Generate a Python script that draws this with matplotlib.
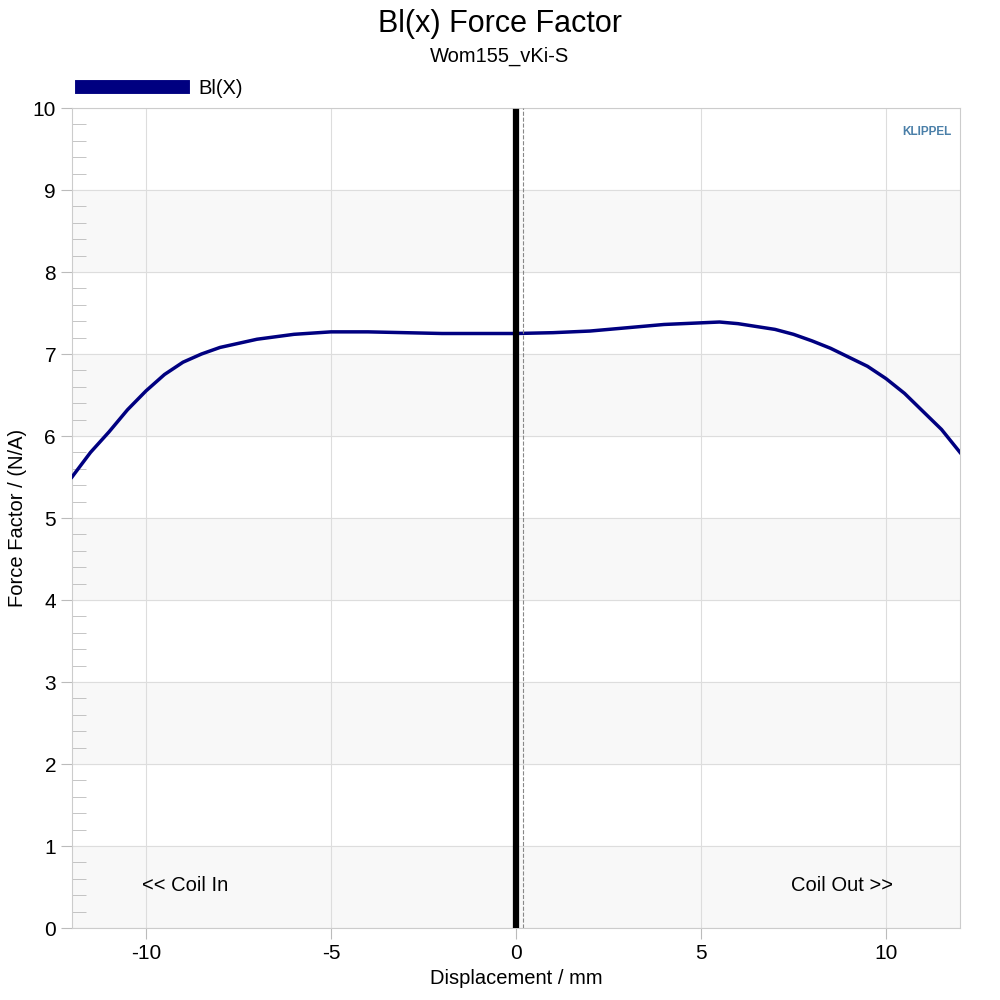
import numpy as np
import matplotlib
matplotlib.use("Agg")
import matplotlib.pyplot as plt
from matplotlib.ticker import MultipleLocator

plt.rcParams['font.family'] = ['Liberation Sans', 'DejaVu Sans']

x_mm = [-12, -11.5, -11, -10.5, -10, -9.5, -9, -8.5, -8, -7, -6, -5, -4, -3, -2, -1, 0, 1, 2, 3, 4, 5, 5.5, 6, 7, 7.5, 8, 8.5, 9, 9.5, 10, 10.5, 11, 11.5, 12]
bl = [5.5, 5.8, 6.05, 6.32, 6.55, 6.75, 6.9, 7.0, 7.08, 7.18, 7.24, 7.27, 7.27, 7.26, 7.25, 7.25, 7.25, 7.26, 7.28, 7.32, 7.36, 7.38, 7.39, 7.37, 7.3, 7.24, 7.16, 7.07, 6.96, 6.85, 6.7, 6.52, 6.3, 6.08, 5.8]

fig = plt.figure(figsize=(10, 10), dpi=100)
ax = fig.add_axes([0.072, 0.072, 0.888, 0.82])
ax.set_xlim(-12, 12)
ax.set_ylim(0, 10)
for k in range(0, 10, 2):
    ax.axhspan(k, k + 1, color="#f8f8f8", zorder=0)
ax.grid(True, color="#dddddd", lw=0.8)
ax.set_axisbelow(True)
ax.xaxis.set_major_locator(MultipleLocator(5))
ax.xaxis.set_minor_locator(MultipleLocator(1))
ax.yaxis.set_major_locator(MultipleLocator(1))
ax.yaxis.set_minor_locator(MultipleLocator(0.2))
ax.tick_params(which="major", length=8, color="#bbbbbb", labelsize=15)
ax.tick_params(axis="y", which="minor", direction="in", length=10, color="#bbbbbb")
ax.tick_params(axis="x", which="minor", length=0)
for s in ax.spines.values():
    s.set_color("#cccccc")
ax.set_xticks([-10, -5, 0, 5, 10])
ax.set_xticklabels(["-10", "-5", "0", "5", "10"])
ax.plot(x_mm, bl, color="#000080", lw=2.5, label="Bl(X)", zorder=3)
ax.axvline(0, color="black", lw=4.5, ymax=0.995, zorder=4)
ax.axvline(0.2, color="#888888", lw=0.8, ls="--", zorder=4)
ax.text(-10.1, 0.45, "<< Coil In", fontsize=14.5)
ax.text(10.2, 0.45, "Coil Out >>", fontsize=14.5, ha="right")
ax.text(0.99, 0.978, "KLIPPEL", transform=ax.transAxes, ha="right", va="top",
        color="#4a7fa8", fontsize=8.5, fontweight="bold")
ax.set_xlabel("Displacement / mm", fontsize=14.5)
ax.set_ylabel("Force Factor / (N/A)", fontsize=14.5)
fig.text(0.5, 0.968, "Bl(x) Force Factor", ha="center", fontsize=22)
fig.text(0.5, 0.938, "Wom155_vKi-S", ha="center", fontsize=14.5)
ax.legend(handles=[plt.Line2D([], [], color="#000080", lw=10)], labels=["Bl(X)"],
          loc="lower left", bbox_to_anchor=(0, 1.0), frameon=False, fontsize=14.5, handlelength=5,
          borderaxespad=0.1)
fig.savefig("out.png")
